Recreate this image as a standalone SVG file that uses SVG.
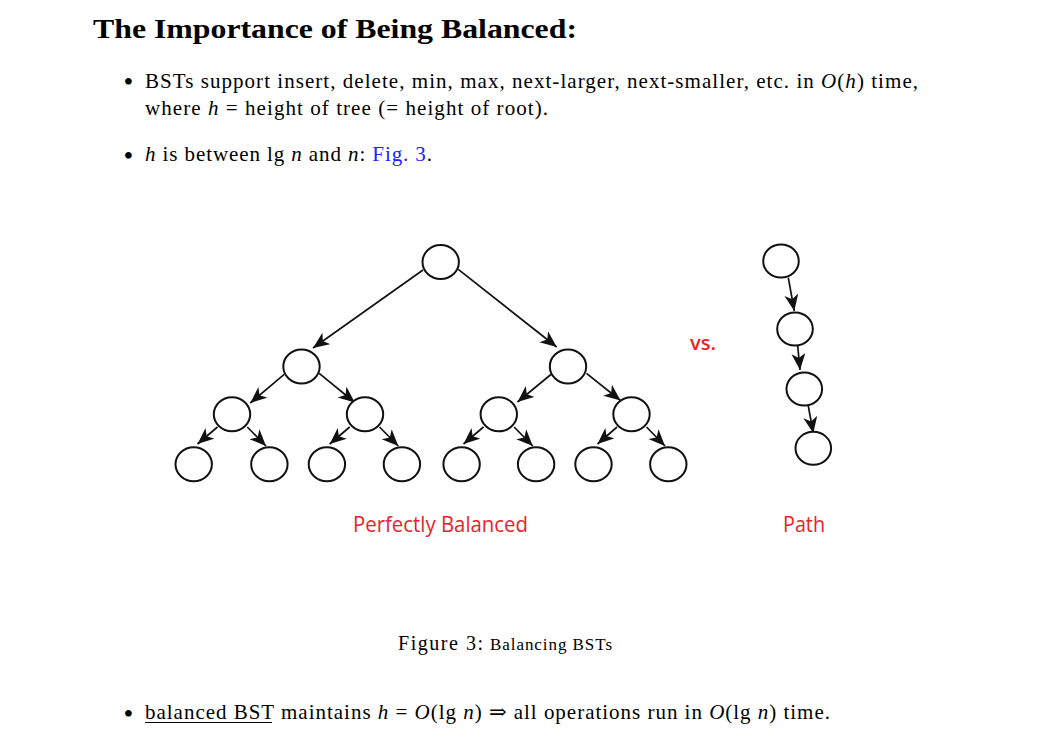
<svg xmlns="http://www.w3.org/2000/svg" width="1058" height="750" viewBox="0 0 1058 750">
<style>
.serif{font-family:"Liberation Serif","DejaVu Serif",serif;fill:#000}
.title{font-size:28px;font-weight:bold}
.body{font-size:21px}
.bul{font-size:28px}
.it{font-style:italic}
.link{fill:#2222ff}
.red{font-family:"Open Sans","Noto Sans","Liberation Sans",sans-serif;fill:#ee1d27}
.node{fill:#fff;stroke:#111;stroke-width:2}
.edge{stroke:#111;stroke-width:1.7;fill:none;marker-end:url(#arr)}
</style>
<defs>
<marker id="arr" markerUnits="userSpaceOnUse" markerWidth="18" markerHeight="15" refX="16.5" refY="7" orient="auto">
<path d="M0,0 L16.5,7 L0,14 L4.5,7 z" fill="#111"/>
</marker>
</defs>
<rect width="1058" height="750" fill="#fff"/>

<text class="serif title" x="93" y="38" textLength="484" lengthAdjust="spacingAndGlyphs">The Importance of Being Balanced:</text>

<text class="serif bul" x="123.4" y="91">•</text>
<text class="serif body" x="145" y="88" textLength="773" lengthAdjust="spacing">BSTs support insert, delete, min, max, next-larger, next-smaller, etc. in <tspan class="it">O</tspan>(<tspan class="it">h</tspan>) time,</text>
<text class="serif body" x="145" y="115" textLength="403" lengthAdjust="spacing">where <tspan class="it">h</tspan> =  height of tree (= height of root).</text>

<text class="serif bul" x="123.4" y="165">•</text>
<text class="serif body" x="145" y="161" textLength="287" lengthAdjust="spacing"><tspan class="it">h</tspan> is between lg <tspan class="it">n</tspan> and <tspan class="it">n</tspan>: <tspan class="link">Fig. 3</tspan>.</text>

<g id="connectors">
<line class="edge" x1="423" y1="270" x2="313" y2="348"/>
<line class="edge" x1="458.3" y1="269.3" x2="556.7" y2="347"/>
<line class="edge" x1="284.2" y1="374.3" x2="250.3" y2="403"/>
<line class="edge" x1="319.2" y1="373.3" x2="354.8" y2="402.5"/>
<line class="edge" x1="551.5" y1="374" x2="517.5" y2="402"/>
<line class="edge" x1="586.5" y1="373.3" x2="620.5" y2="400.5"/>
<line class="edge" x1="217.5" y1="427" x2="197.5" y2="444"/>
<line class="edge" x1="247.3" y1="427" x2="266" y2="446"/>
<line class="edge" x1="349.7" y1="427" x2="329.7" y2="444"/>
<line class="edge" x1="379.5" y1="427" x2="398.3" y2="446"/>
<line class="edge" x1="483.5" y1="427" x2="463.5" y2="444"/>
<line class="edge" x1="514.1" y1="427" x2="532.8" y2="446"/>
<line class="edge" x1="617" y1="427" x2="597.5" y2="444"/>
<line class="edge" x1="646.5" y1="427" x2="665" y2="446"/>
<line class="edge" x1="788.3" y1="277.7" x2="794.3" y2="311"/>
<line class="edge" x1="797.7" y1="346" x2="800" y2="370"/>
<line class="edge" x1="808.3" y1="406" x2="813.3" y2="433.3"/>
</g>

<g id="root"><ellipse class="node" cx="440.7" cy="262" rx="18.2" ry="17"/></g>
<g id="n1L"><ellipse class="node" cx="301.5" cy="366.5" rx="18.2" ry="17"/></g>
<g id="n1R"><ellipse class="node" cx="568" cy="366.5" rx="18.2" ry="17"/></g>
<g id="n2a"><ellipse class="node" cx="232" cy="414.3" rx="18.2" ry="17"/></g>
<g id="n2b"><ellipse class="node" cx="365" cy="414.3" rx="18.2" ry="17"/></g>
<g id="n2c"><ellipse class="node" cx="498.8" cy="414.3" rx="18.2" ry="17"/></g>
<g id="n2d"><ellipse class="node" cx="631.5" cy="414.3" rx="18.2" ry="17"/></g>
<g id="n3a"><ellipse class="node" cx="193.7" cy="464.2" rx="18.2" ry="17"/></g>
<g id="n3b"><ellipse class="node" cx="269.4" cy="464.2" rx="18.2" ry="17"/></g>
<g id="n3c"><ellipse class="node" cx="326.9" cy="464.2" rx="18.2" ry="17"/></g>
<g id="n3d"><ellipse class="node" cx="401.9" cy="464.2" rx="18.2" ry="17"/></g>
<g id="n3e"><ellipse class="node" cx="461.6" cy="464.2" rx="18.2" ry="17"/></g>
<g id="n3f"><ellipse class="node" cx="536.1" cy="464.2" rx="18.2" ry="17"/></g>
<g id="n3g"><ellipse class="node" cx="593.5" cy="464.2" rx="18.2" ry="17"/></g>
<g id="n3h"><ellipse class="node" cx="668.3" cy="464.2" rx="18.2" ry="17"/></g>

<g id="p1"><ellipse class="node" cx="781" cy="261" rx="17.8" ry="16.5"/></g>
<g id="p2"><ellipse class="node" cx="795" cy="329" rx="17.8" ry="16.5"/></g>
<g id="p3"><ellipse class="node" cx="804.3" cy="389" rx="17.8" ry="16.5"/></g>
<g id="p4"><ellipse class="node" cx="813.3" cy="448.3" rx="17.8" ry="16.5"/></g>

<text class="red" x="690" y="349.5" font-size="19" font-weight="600" textLength="26" lengthAdjust="spacingAndGlyphs">vs.</text>
<text class="red" x="353" y="531.5" font-size="21" textLength="175" lengthAdjust="spacingAndGlyphs">Perfectly Balanced</text>
<text class="red" x="783" y="531.5" font-size="21" textLength="42" lengthAdjust="spacingAndGlyphs">Path</text>

<text class="serif" x="398" y="650" font-size="20" textLength="85" lengthAdjust="spacing">Figure 3:</text>
<text class="serif" x="490" y="650" font-size="17" textLength="122" lengthAdjust="spacing">Balancing BSTs</text>

<text class="serif bul" x="123.4" y="723">•</text>
<text class="serif body" x="145" y="719" textLength="685" lengthAdjust="spacing">balanced BST maintains <tspan class="it">h</tspan> = <tspan class="it">O</tspan>(lg <tspan class="it">n</tspan>) ⇒ all operations run in <tspan class="it">O</tspan>(lg <tspan class="it">n</tspan>) time.</text>
<line x1="145" y1="722.5" x2="272" y2="722.5" stroke="#000" stroke-width="1"/>
</svg>
